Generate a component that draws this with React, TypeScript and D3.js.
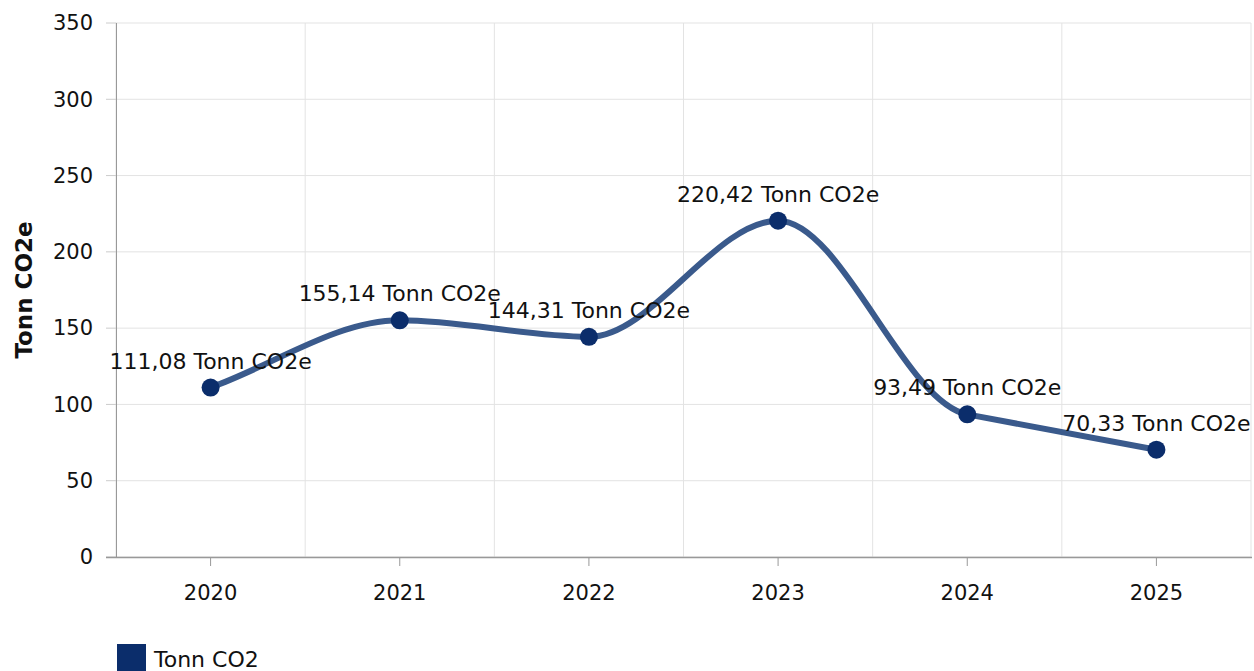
import React from "react";
import * as d3 from "d3";

const categories = ["2020", "2021", "2022", "2023", "2024", "2025"];
const values = [111.08, 155.14, 144.31, 220.42, 93.49, 70.33];
const labels = ["111,08 Tonn CO2e", "155,14 Tonn CO2e", "144,31 Tonn CO2e", "220,42 Tonn CO2e", "93,49 Tonn CO2e", "70,33 Tonn CO2e"];
const yTicks = [0, 50, 100, 150, 200, 250, 300, 350];
const seriesName = "Tonn CO2";
const axisTitle = "Tonn CO2e";

const W = 1254;
const H = 671;
const left = 116;
const right = 1251;
const top = 23;
const bottom = 557;
const font = "'DejaVu Sans', Verdana, sans-serif";

// Smooth curve: flat tangents at extrema, the smaller neighbouring secant elsewhere.
function smoothPath(pts: [number, number][]): string {
  const n = pts.length;
  const sec = d3.range(n - 1).map((i) => (pts[i + 1][1] - pts[i][1]) / (pts[i + 1][0] - pts[i][0]));
  const tan = pts.map((_, i) => {
    if (i === 0) return sec[0];
    if (i === n - 1) return sec[n - 2];
    const a = sec[i - 1];
    const b = sec[i];
    if (a * b <= 0) return 0;
    return Math.sign(a) * Math.min(Math.abs(a), Math.abs(b));
  });
  const path = d3.path();
  path.moveTo(pts[0][0], pts[0][1]);
  for (let i = 1; i < n; i++) {
    const p0 = pts[i - 1];
    const p1 = pts[i];
    const h = (p1[0] - p0[0]) / 3;
    path.bezierCurveTo(p0[0] + h, p0[1] + tan[i - 1] * h, p1[0] - h, p1[1] - tan[i] * h, p1[0], p1[1]);
  }
  return path.toString();
}

export default function App() {
  const x = d3.scaleBand<string>().domain(categories).range([left, right]).padding(0);
  const y = d3.scaleLinear().domain([0, 350]).range([bottom, top]);
  const cx = (c: string) => (x(c) as number) + x.bandwidth() / 2;
  const pts: [number, number][] = categories.map((c, i) => [cx(c), y(values[i])]);
  const line = smoothPath(pts);
  const bounds = categories.map((c) => x(c) as number).concat([right]);

  return (
    <svg width={W} height={H} style={{ position: "absolute", left: 0, top: 0, fontFamily: font }}>
      <rect x={0} y={0} width={W} height={H} fill="#fff" />
      {yTicks.map((t) => (
        <line key={"g" + t} x1={left} x2={right} y1={y(t)} y2={y(t)} stroke="#e3e3e3" strokeWidth={1} />
      ))}
      {bounds.map((b, i) => (
        <line key={"v" + i} x1={b} x2={b} y1={top} y2={bottom} stroke="#e3e3e3" strokeWidth={1} />
      ))}
      {yTicks.map((t) => (
        <g key={"t" + t}>
          <line x1={106} x2={left} y1={y(t)} y2={y(t)} stroke="#ccc" strokeWidth={1} />
          <text x={93} y={y(t)} dy="0.35em" textAnchor="end" fontSize={21} fill="#111">{t}</text>
        </g>
      ))}
      <line x1={left + 0.5} x2={left + 0.5} y1={top} y2={bottom} stroke="#999" strokeWidth={1} />
      <line x1={106} x2={right + 1} y1={bottom + 0.5} y2={bottom + 0.5} stroke="#999" strokeWidth={1.5} />
      {categories.map((c) => (
        <g key={"x" + c}>
          <line x1={cx(c)} x2={cx(c)} y1={bottom} y2={bottom + 9} stroke="#999" strokeWidth={1} />
          <text x={cx(c)} y={600} textAnchor="middle" fontSize={21} fill="#111">{c}</text>
        </g>
      ))}
      <text transform={`translate(32,${(top + bottom) / 2}) rotate(-90)`} textAnchor="middle" fontSize={23} fontWeight="bold" fill="#111">{axisTitle}</text>
      <path d={line} fill="none" stroke="#3a5a8c" strokeWidth={6} strokeLinecap="round" />
      {pts.map((p, i) => (
        <circle key={"p" + i} cx={p[0]} cy={p[1]} r={9} fill="#0b2d6b" />
      ))}
      {pts.map((p, i) => (
        <text key={"l" + i} x={p[0]} y={p[1] - 19} textAnchor="middle" fontSize={22} fill="#111">{labels[i]}</text>
      ))}
      <rect x={117} y={644} width={29} height={29} fill="#0b2d6b" />
      <text x={154} y={667} fontSize={22} fill="#111">{seriesName}</text>
    </svg>
  );
}
